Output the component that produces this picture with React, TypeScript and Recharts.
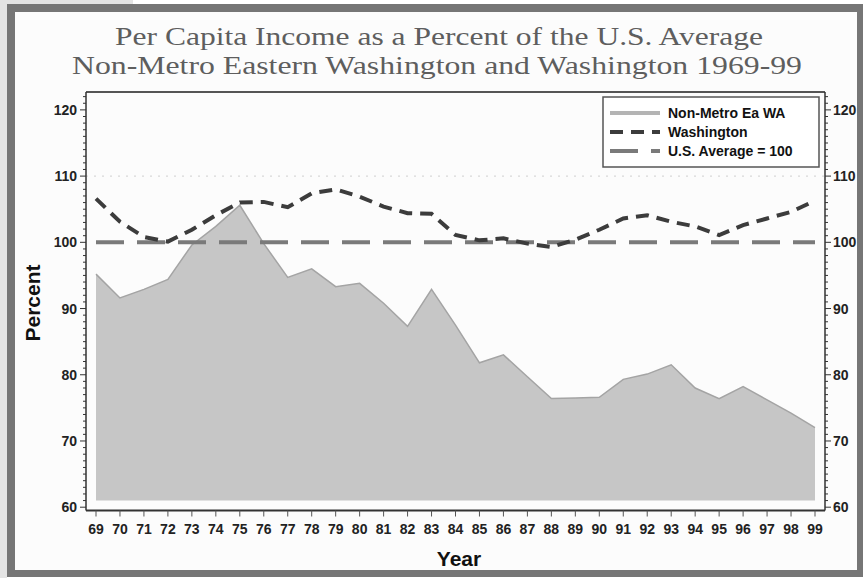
import React from 'react';
import { ComposedChart, Area, Line, XAxis, YAxis, ReferenceLine } from 'recharts';

const years = ['69','70','71','72','73','74','75','76','77','78','79','80','81','82','83','84','85','86','87','88','89','90','91','92','93','94','95','96','97','98','99'];
const nonMetroEaWA = [95.2,91.6,92.9,94.4,99.6,102.4,105.6,99.8,94.7,96.0,93.3,93.8,90.8,87.3,92.9,87.5,81.8,83.0,79.7,76.4,76.5,76.6,79.3,80.1,81.5,78.0,76.4,78.2,76.2,74.2,72.0];
const washington = [106.6,103.1,100.8,100.1,101.9,104.1,106.0,106.1,105.3,107.4,108.0,106.9,105.4,104.4,104.3,101.1,100.3,100.6,99.8,99.3,100.4,101.9,103.6,104.1,103.1,102.4,101.1,102.6,103.6,104.6,106.3];
const US_AVERAGE = 100;
const AREA_BASE = 61;
const majorTicks = [60, 70, 80, 90, 100, 110, 120];
const Y_MIN = 59.5;
const Y_MAX = 122.7;
const yTicks: number[] = [];
for (let v = 60; v <= 122; v++) yTicks.push(v);

const titleLines = [
  'Per Capita Income as a Percent of the U.S. Average',
  'Non-Metro Eastern Washington and Washington 1969-99',
];
const seriesNames = ['Non-Metro Ea WA', 'Washington', 'U.S. Average = 100'];

const data = years.map((y, i) => ({
  year: y,
  nonMetro: nonMetroEaWA[i],
  wa: washington[i],
  us: US_AVERAGE,
}));

const FONT = '"Liberation Sans", Arial, sans-serif';
const SERIF = '"Liberation Serif", "DejaVu Serif", serif';
const AXIS = '#333';
const WA_DASH = '13 8';
const US_DASH = '28 13';

const LeftTick = (props: any) => {
  const { x, y, payload } = props;
  const v = payload.value;
  const major = majorTicks.includes(v);
  return (
    <g>
      <line x1={x - (major ? 6 : 3)} x2={x} y1={y} y2={y} stroke={AXIS} strokeWidth={1} />
      {major && (
        <text x={x - 9} y={y} dy="0.36em" textAnchor="end" fontFamily={FONT} fontWeight="bold" fontSize={14} fill="#222">
          {v}
        </text>
      )}
    </g>
  );
};

const RightTick = (props: any) => {
  const { x, y, payload } = props;
  const v = payload.value;
  const major = majorTicks.includes(v);
  return (
    <g>
      <line x1={x} x2={x + (major ? 6 : 3)} y1={y} y2={y} stroke={AXIS} strokeWidth={1} />
      {major && (
        <text x={x + 8} y={y} dy="0.36em" textAnchor="start" fontFamily={FONT} fontWeight="bold" fontSize={14} fill="#222">
          {v}
        </text>
      )}
    </g>
  );
};

export default function App() {
  return (
    <div style={{ position: 'absolute', left: 0, top: 0, width: 864, height: 578, background: '#ffffff', overflow: 'hidden' }}>
      <div style={{ position: 'absolute', left: 0, top: 0, width: 7, height: 578, background: '#e4e4e4' }} />
      <div style={{ position: 'absolute', left: 0, top: 0, width: 133, height: 4, background: '#e4e4e4' }} />
      <div
        style={{
          position: 'absolute', left: 7, top: 4, width: 856, height: 573, boxSizing: 'border-box',
          borderStyle: 'solid', borderColor: '#767676', borderWidth: '8px 6px 7px 8px', background: '#fcfcfc',
        }}
      />
      <div style={{ position: 'absolute', left: 0, top: 0 }}>
        <ComposedChart width={864} height={578} data={data} margin={{ top: 92, right: 0, left: 46, bottom: 37.5 }}>
          <XAxis
            dataKey="year"
            padding={{ left: 10, right: 10 }}
            interval={0}
            tickSize={6}
            tickMargin={8}
            stroke={AXIS}
            axisLine={{ stroke: '#333', strokeWidth: 2 }}
            tickLine={{ stroke: '#555', strokeWidth: 1 }}
            tick={{ fill: '#222', fontSize: 14, fontWeight: 'bold', fontFamily: FONT }}
            height={30}
          />
          <YAxis
            yAxisId="left"
            domain={[Y_MIN, Y_MAX]}
            ticks={yTicks}
            interval={0}
            allowDataOverflow
            width={40}
            tickSize={0}
            tickMargin={0}
            tickLine={false}
            axisLine={{ stroke: '#333', strokeWidth: 1.5 }}
            tick={<LeftTick />}
          />
          <YAxis
            yAxisId="right"
            orientation="right"
            domain={[Y_MIN, Y_MAX]}
            ticks={yTicks}
            interval={0}
            allowDataOverflow
            width={39}
            tickSize={0}
            tickMargin={0}
            tickLine={false}
            axisLine={{ stroke: '#333', strokeWidth: 1.5 }}
            tick={<RightTick />}
          />
          <ReferenceLine yAxisId="left" y={110} stroke="#cfcfcf" strokeDasharray="2 6" />
          <ReferenceLine yAxisId="left" y={Y_MAX} stroke="#555" strokeWidth={2} />
          <Area
            yAxisId="left"
            dataKey="nonMetro"
            name={seriesNames[0]}
            type="linear"
            baseValue={AREA_BASE}
            fill="#c6c6c6"
            fillOpacity={1}
            stroke="#a4a4a4"
            strokeWidth={1.5}
            isAnimationActive={false}
            dot={false}
            activeDot={false}
          />
          <Line
            yAxisId="left"
            dataKey="us"
            name={seriesNames[2]}
            type="linear"
            stroke="#7a7a7a"
            strokeWidth={4}
            strokeDasharray={US_DASH}
            dot={false}
            activeDot={false}
            isAnimationActive={false}
          />
          <Line
            yAxisId="left"
            dataKey="wa"
            name={seriesNames[1]}
            type="linear"
            stroke="#3c3c3c"
            strokeWidth={4}
            strokeDasharray={WA_DASH}
            dot={false}
            activeDot={false}
            isAnimationActive={false}
          />
        </ComposedChart>
      </div>
      <svg width={864} height={578} style={{ position: 'absolute', left: 0, top: 0, pointerEvents: 'none' }}>
        <text x={439} y={45} textAnchor="middle" fontFamily={SERIF} fontSize={25} fill="#5e5e5e" textLength={648} lengthAdjust="spacingAndGlyphs">
          {titleLines[0]}
        </text>
        <text x={437} y={74} textAnchor="middle" fontFamily={SERIF} fontSize={25} fill="#5e5e5e" textLength={730} lengthAdjust="spacingAndGlyphs">
          {titleLines[1]}
        </text>
        <text x={40} y={303} transform="rotate(-90 40 303)" textAnchor="middle" fontFamily={FONT} fontWeight="bold" fontSize={21} fill="#111">
          Percent
        </text>
        <text x={459} y={566} textAnchor="middle" fontFamily={FONT} fontWeight="bold" fontSize={21} fill="#111">
          Year
        </text>
        <g>
          <rect x={603} y={97} width={216} height={70} fill="#ffffff" stroke="#555" strokeWidth={1.5} />
          <line x1={610} x2={660} y1={113} y2={113} stroke="#b4b4b4" strokeWidth={4} />
          <line x1={610} x2={660} y1={132} y2={132} stroke="#3c3c3c" strokeWidth={4} strokeDasharray={WA_DASH} />
          <line x1={610} x2={660} y1={151} y2={151} stroke="#7a7a7a" strokeWidth={4} strokeDasharray={US_DASH} />
          {seriesNames.map((n, i) => (
            <text key={n} x={668} y={113 + i * 19} dy="0.36em" fontFamily={FONT} fontWeight="bold" fontSize={14} fill="#111">
              {n}
            </text>
          ))}
        </g>
      </svg>
    </div>
  );
}
